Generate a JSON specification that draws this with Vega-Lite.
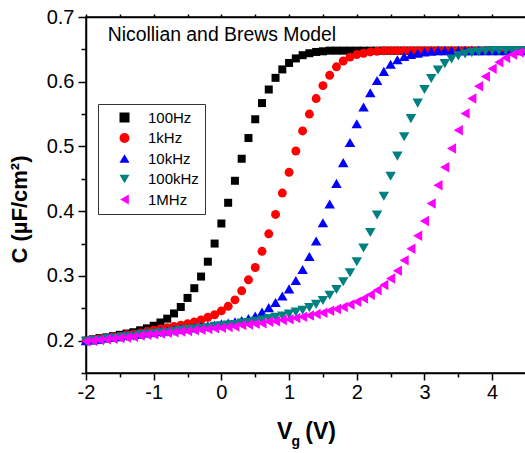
{
  "$schema": "https://vega.github.io/schema/vega-lite/v6.json",
  "width": 440,
  "height": 356,
  "autosize": "none",
  "padding": {"left": 86, "top": 17, "right": 0, "bottom": 80},
  "config": {"view": {"stroke": "black", "strokeWidth": 1.5}, "font": "Liberation Sans"},
  "datasets": {"one": [{}]},
  "data": {"values": [
{"f":"100Hz","V":-2.0,"C":0.200},{"f":"100Hz","V":-1.9,"C":0.202},{"f":"100Hz","V":-1.8,"C":0.204},{"f":"100Hz","V":-1.7,"C":0.205},{"f":"100Hz","V":-1.6,"C":0.207},{"f":"100Hz","V":-1.5,"C":0.209},{"f":"100Hz","V":-1.4,"C":0.211},{"f":"100Hz","V":-1.3,"C":0.213},{"f":"100Hz","V":-1.2,"C":0.216},{"f":"100Hz","V":-1.1,"C":0.219},{"f":"100Hz","V":-1.0,"C":0.223},{"f":"100Hz","V":-0.9,"C":0.228},{"f":"100Hz","V":-0.8,"C":0.234},{"f":"100Hz","V":-0.7,"C":0.242},{"f":"100Hz","V":-0.6,"C":0.252},{"f":"100Hz","V":-0.5,"C":0.266},{"f":"100Hz","V":-0.4,"C":0.281},{"f":"100Hz","V":-0.3,"C":0.299},{"f":"100Hz","V":-0.2,"C":0.322},{"f":"100Hz","V":-0.1,"C":0.350},{"f":"100Hz","V":0.0,"C":0.381},{"f":"100Hz","V":0.1,"C":0.413},{"f":"100Hz","V":0.2,"C":0.447},{"f":"100Hz","V":0.3,"C":0.481},{"f":"100Hz","V":0.4,"C":0.513},{"f":"100Hz","V":0.5,"C":0.542},{"f":"100Hz","V":0.6,"C":0.567},{"f":"100Hz","V":0.7,"C":0.588},{"f":"100Hz","V":0.8,"C":0.606},{"f":"100Hz","V":0.9,"C":0.619},{"f":"100Hz","V":1.0,"C":0.629},{"f":"100Hz","V":1.1,"C":0.636},{"f":"100Hz","V":1.2,"C":0.641},{"f":"100Hz","V":1.3,"C":0.644},{"f":"100Hz","V":1.4,"C":0.646},{"f":"100Hz","V":1.5,"C":0.647},{"f":"100Hz","V":1.6,"C":0.648},{"f":"100Hz","V":1.7,"C":0.648},{"f":"100Hz","V":1.8,"C":0.648},{"f":"100Hz","V":1.9,"C":0.648},{"f":"100Hz","V":2.0,"C":0.648},{"f":"100Hz","V":2.1,"C":0.648},{"f":"100Hz","V":2.2,"C":0.648},{"f":"100Hz","V":2.3,"C":0.648},{"f":"100Hz","V":2.4,"C":0.648},{"f":"100Hz","V":2.5,"C":0.648},{"f":"100Hz","V":2.6,"C":0.648},{"f":"100Hz","V":2.7,"C":0.648},{"f":"100Hz","V":2.8,"C":0.648},{"f":"100Hz","V":2.9,"C":0.648},{"f":"100Hz","V":3.0,"C":0.648},{"f":"100Hz","V":3.1,"C":0.648},{"f":"100Hz","V":3.2,"C":0.648},{"f":"100Hz","V":3.3,"C":0.648},{"f":"100Hz","V":3.4,"C":0.648},{"f":"100Hz","V":3.5,"C":0.648},{"f":"100Hz","V":3.6,"C":0.648},{"f":"100Hz","V":3.7,"C":0.648},{"f":"100Hz","V":3.8,"C":0.648},{"f":"100Hz","V":3.9,"C":0.648},{"f":"100Hz","V":4.0,"C":0.648},{"f":"100Hz","V":4.1,"C":0.648},{"f":"100Hz","V":4.2,"C":0.648},{"f":"100Hz","V":4.3,"C":0.648},{"f":"100Hz","V":4.4,"C":0.648},{"f":"100Hz","V":4.5,"C":0.648},
{"f":"1kHz","V":-2.0,"C":0.200},{"f":"1kHz","V":-1.9,"C":0.201},{"f":"1kHz","V":-1.8,"C":0.203},{"f":"1kHz","V":-1.7,"C":0.204},{"f":"1kHz","V":-1.6,"C":0.206},{"f":"1kHz","V":-1.5,"C":0.207},{"f":"1kHz","V":-1.4,"C":0.209},{"f":"1kHz","V":-1.3,"C":0.210},{"f":"1kHz","V":-1.2,"C":0.212},{"f":"1kHz","V":-1.1,"C":0.214},{"f":"1kHz","V":-1.0,"C":0.216},{"f":"1kHz","V":-0.9,"C":0.218},{"f":"1kHz","V":-0.8,"C":0.220},{"f":"1kHz","V":-0.7,"C":0.222},{"f":"1kHz","V":-0.6,"C":0.224},{"f":"1kHz","V":-0.5,"C":0.226},{"f":"1kHz","V":-0.4,"C":0.229},{"f":"1kHz","V":-0.3,"C":0.232},{"f":"1kHz","V":-0.2,"C":0.236},{"f":"1kHz","V":-0.1,"C":0.240},{"f":"1kHz","V":0.0,"C":0.246},{"f":"1kHz","V":0.1,"C":0.253},{"f":"1kHz","V":0.2,"C":0.263},{"f":"1kHz","V":0.3,"C":0.277},{"f":"1kHz","V":0.4,"C":0.294},{"f":"1kHz","V":0.5,"C":0.313},{"f":"1kHz","V":0.6,"C":0.338},{"f":"1kHz","V":0.7,"C":0.365},{"f":"1kHz","V":0.8,"C":0.395},{"f":"1kHz","V":0.9,"C":0.428},{"f":"1kHz","V":1.0,"C":0.460},{"f":"1kHz","V":1.1,"C":0.493},{"f":"1kHz","V":1.2,"C":0.524},{"f":"1kHz","V":1.3,"C":0.550},{"f":"1kHz","V":1.4,"C":0.574},{"f":"1kHz","V":1.5,"C":0.594},{"f":"1kHz","V":1.6,"C":0.610},{"f":"1kHz","V":1.7,"C":0.623},{"f":"1kHz","V":1.8,"C":0.632},{"f":"1kHz","V":1.9,"C":0.638},{"f":"1kHz","V":2.0,"C":0.642},{"f":"1kHz","V":2.1,"C":0.644},{"f":"1kHz","V":2.2,"C":0.646},{"f":"1kHz","V":2.3,"C":0.647},{"f":"1kHz","V":2.4,"C":0.648},{"f":"1kHz","V":2.5,"C":0.648},{"f":"1kHz","V":2.6,"C":0.648},{"f":"1kHz","V":2.7,"C":0.648},{"f":"1kHz","V":2.8,"C":0.648},{"f":"1kHz","V":2.9,"C":0.648},{"f":"1kHz","V":3.0,"C":0.648},{"f":"1kHz","V":3.1,"C":0.648},{"f":"1kHz","V":3.2,"C":0.648},{"f":"1kHz","V":3.3,"C":0.648},{"f":"1kHz","V":3.4,"C":0.648},{"f":"1kHz","V":3.5,"C":0.648},{"f":"1kHz","V":3.6,"C":0.648},{"f":"1kHz","V":3.7,"C":0.648},{"f":"1kHz","V":3.8,"C":0.648},{"f":"1kHz","V":3.9,"C":0.648},{"f":"1kHz","V":4.0,"C":0.648},{"f":"1kHz","V":4.1,"C":0.648},{"f":"1kHz","V":4.2,"C":0.648},{"f":"1kHz","V":4.3,"C":0.648},{"f":"1kHz","V":4.4,"C":0.648},{"f":"1kHz","V":4.5,"C":0.648},
{"f":"10kHz","V":-2.0,"C":0.200},{"f":"10kHz","V":-1.9,"C":0.201},{"f":"10kHz","V":-1.8,"C":0.202},{"f":"10kHz","V":-1.7,"C":0.204},{"f":"10kHz","V":-1.6,"C":0.205},{"f":"10kHz","V":-1.5,"C":0.206},{"f":"10kHz","V":-1.4,"C":0.208},{"f":"10kHz","V":-1.3,"C":0.209},{"f":"10kHz","V":-1.2,"C":0.210},{"f":"10kHz","V":-1.1,"C":0.212},{"f":"10kHz","V":-1.0,"C":0.213},{"f":"10kHz","V":-0.9,"C":0.214},{"f":"10kHz","V":-0.8,"C":0.215},{"f":"10kHz","V":-0.7,"C":0.217},{"f":"10kHz","V":-0.6,"C":0.218},{"f":"10kHz","V":-0.5,"C":0.219},{"f":"10kHz","V":-0.4,"C":0.220},{"f":"10kHz","V":-0.3,"C":0.222},{"f":"10kHz","V":-0.2,"C":0.223},{"f":"10kHz","V":-0.1,"C":0.224},{"f":"10kHz","V":0.0,"C":0.226},{"f":"10kHz","V":0.1,"C":0.227},{"f":"10kHz","V":0.2,"C":0.229},{"f":"10kHz","V":0.3,"C":0.231},{"f":"10kHz","V":0.4,"C":0.234},{"f":"10kHz","V":0.5,"C":0.238},{"f":"10kHz","V":0.6,"C":0.244},{"f":"10kHz","V":0.7,"C":0.251},{"f":"10kHz","V":0.8,"C":0.259},{"f":"10kHz","V":0.9,"C":0.269},{"f":"10kHz","V":1.0,"C":0.280},{"f":"10kHz","V":1.1,"C":0.293},{"f":"10kHz","V":1.2,"C":0.310},{"f":"10kHz","V":1.3,"C":0.330},{"f":"10kHz","V":1.4,"C":0.354},{"f":"10kHz","V":1.5,"C":0.382},{"f":"10kHz","V":1.6,"C":0.411},{"f":"10kHz","V":1.7,"C":0.443},{"f":"10kHz","V":1.8,"C":0.475},{"f":"10kHz","V":1.9,"C":0.506},{"f":"10kHz","V":2.0,"C":0.535},{"f":"10kHz","V":2.1,"C":0.561},{"f":"10kHz","V":2.2,"C":0.583},{"f":"10kHz","V":2.3,"C":0.602},{"f":"10kHz","V":2.4,"C":0.616},{"f":"10kHz","V":2.5,"C":0.627},{"f":"10kHz","V":2.6,"C":0.634},{"f":"10kHz","V":2.7,"C":0.639},{"f":"10kHz","V":2.8,"C":0.642},{"f":"10kHz","V":2.9,"C":0.644},{"f":"10kHz","V":3.0,"C":0.646},{"f":"10kHz","V":3.1,"C":0.647},{"f":"10kHz","V":3.2,"C":0.648},{"f":"10kHz","V":3.3,"C":0.648},{"f":"10kHz","V":3.4,"C":0.648},{"f":"10kHz","V":3.5,"C":0.648},{"f":"10kHz","V":3.6,"C":0.648},{"f":"10kHz","V":3.7,"C":0.648},{"f":"10kHz","V":3.8,"C":0.648},{"f":"10kHz","V":3.9,"C":0.648},{"f":"10kHz","V":4.0,"C":0.648},{"f":"10kHz","V":4.1,"C":0.648},{"f":"10kHz","V":4.2,"C":0.648},{"f":"10kHz","V":4.3,"C":0.648},{"f":"10kHz","V":4.4,"C":0.648},{"f":"10kHz","V":4.5,"C":0.648},
{"f":"100kHz","V":-2.0,"C":0.199},{"f":"100kHz","V":-1.9,"C":0.200},{"f":"100kHz","V":-1.8,"C":0.201},{"f":"100kHz","V":-1.7,"C":0.203},{"f":"100kHz","V":-1.6,"C":0.204},{"f":"100kHz","V":-1.5,"C":0.205},{"f":"100kHz","V":-1.4,"C":0.206},{"f":"100kHz","V":-1.3,"C":0.207},{"f":"100kHz","V":-1.2,"C":0.209},{"f":"100kHz","V":-1.1,"C":0.210},{"f":"100kHz","V":-1.0,"C":0.211},{"f":"100kHz","V":-0.9,"C":0.212},{"f":"100kHz","V":-0.8,"C":0.213},{"f":"100kHz","V":-0.7,"C":0.214},{"f":"100kHz","V":-0.6,"C":0.216},{"f":"100kHz","V":-0.5,"C":0.217},{"f":"100kHz","V":-0.4,"C":0.218},{"f":"100kHz","V":-0.3,"C":0.219},{"f":"100kHz","V":-0.2,"C":0.220},{"f":"100kHz","V":-0.1,"C":0.222},{"f":"100kHz","V":0.0,"C":0.223},{"f":"100kHz","V":0.1,"C":0.224},{"f":"100kHz","V":0.2,"C":0.225},{"f":"100kHz","V":0.3,"C":0.227},{"f":"100kHz","V":0.4,"C":0.228},{"f":"100kHz","V":0.5,"C":0.230},{"f":"100kHz","V":0.6,"C":0.232},{"f":"100kHz","V":0.7,"C":0.234},{"f":"100kHz","V":0.8,"C":0.236},{"f":"100kHz","V":0.9,"C":0.238},{"f":"100kHz","V":1.0,"C":0.241},{"f":"100kHz","V":1.1,"C":0.244},{"f":"100kHz","V":1.2,"C":0.247},{"f":"100kHz","V":1.3,"C":0.251},{"f":"100kHz","V":1.4,"C":0.256},{"f":"100kHz","V":1.5,"C":0.262},{"f":"100kHz","V":1.6,"C":0.270},{"f":"100kHz","V":1.7,"C":0.279},{"f":"100kHz","V":1.8,"C":0.291},{"f":"100kHz","V":1.9,"C":0.305},{"f":"100kHz","V":2.0,"C":0.322},{"f":"100kHz","V":2.1,"C":0.343},{"f":"100kHz","V":2.2,"C":0.367},{"f":"100kHz","V":2.3,"C":0.394},{"f":"100kHz","V":2.4,"C":0.423},{"f":"100kHz","V":2.5,"C":0.454},{"f":"100kHz","V":2.6,"C":0.485},{"f":"100kHz","V":2.7,"C":0.515},{"f":"100kHz","V":2.8,"C":0.543},{"f":"100kHz","V":2.9,"C":0.567},{"f":"100kHz","V":3.0,"C":0.588},{"f":"100kHz","V":3.1,"C":0.605},{"f":"100kHz","V":3.2,"C":0.618},{"f":"100kHz","V":3.3,"C":0.628},{"f":"100kHz","V":3.4,"C":0.635},{"f":"100kHz","V":3.5,"C":0.640},{"f":"100kHz","V":3.6,"C":0.643},{"f":"100kHz","V":3.7,"C":0.645},{"f":"100kHz","V":3.8,"C":0.646},{"f":"100kHz","V":3.9,"C":0.647},{"f":"100kHz","V":4.0,"C":0.648},{"f":"100kHz","V":4.1,"C":0.648},{"f":"100kHz","V":4.2,"C":0.648},{"f":"100kHz","V":4.3,"C":0.648},{"f":"100kHz","V":4.4,"C":0.648},{"f":"100kHz","V":4.5,"C":0.648},
{"f":"1MHz","V":-2.0,"C":0.199},{"f":"1MHz","V":-1.9,"C":0.200},{"f":"1MHz","V":-1.8,"C":0.201},{"f":"1MHz","V":-1.7,"C":0.202},{"f":"1MHz","V":-1.6,"C":0.203},{"f":"1MHz","V":-1.5,"C":0.204},{"f":"1MHz","V":-1.4,"C":0.205},{"f":"1MHz","V":-1.3,"C":0.206},{"f":"1MHz","V":-1.2,"C":0.208},{"f":"1MHz","V":-1.1,"C":0.209},{"f":"1MHz","V":-1.0,"C":0.210},{"f":"1MHz","V":-0.9,"C":0.211},{"f":"1MHz","V":-0.8,"C":0.212},{"f":"1MHz","V":-0.7,"C":0.213},{"f":"1MHz","V":-0.6,"C":0.214},{"f":"1MHz","V":-0.5,"C":0.215},{"f":"1MHz","V":-0.4,"C":0.216},{"f":"1MHz","V":-0.3,"C":0.217},{"f":"1MHz","V":-0.2,"C":0.218},{"f":"1MHz","V":-0.1,"C":0.219},{"f":"1MHz","V":0.0,"C":0.220},{"f":"1MHz","V":0.1,"C":0.221},{"f":"1MHz","V":0.2,"C":0.222},{"f":"1MHz","V":0.3,"C":0.224},{"f":"1MHz","V":0.4,"C":0.225},{"f":"1MHz","V":0.5,"C":0.226},{"f":"1MHz","V":0.6,"C":0.227},{"f":"1MHz","V":0.7,"C":0.229},{"f":"1MHz","V":0.8,"C":0.230},{"f":"1MHz","V":0.9,"C":0.232},{"f":"1MHz","V":1.0,"C":0.233},{"f":"1MHz","V":1.1,"C":0.235},{"f":"1MHz","V":1.2,"C":0.237},{"f":"1MHz","V":1.3,"C":0.239},{"f":"1MHz","V":1.4,"C":0.241},{"f":"1MHz","V":1.5,"C":0.243},{"f":"1MHz","V":1.6,"C":0.246},{"f":"1MHz","V":1.7,"C":0.249},{"f":"1MHz","V":1.8,"C":0.252},{"f":"1MHz","V":1.9,"C":0.256},{"f":"1MHz","V":2.0,"C":0.260},{"f":"1MHz","V":2.1,"C":0.265},{"f":"1MHz","V":2.2,"C":0.271},{"f":"1MHz","V":2.3,"C":0.278},{"f":"1MHz","V":2.4,"C":0.286},{"f":"1MHz","V":2.5,"C":0.296},{"f":"1MHz","V":2.6,"C":0.308},{"f":"1MHz","V":2.7,"C":0.324},{"f":"1MHz","V":2.8,"C":0.342},{"f":"1MHz","V":2.9,"C":0.362},{"f":"1MHz","V":3.0,"C":0.385},{"f":"1MHz","V":3.1,"C":0.412},{"f":"1MHz","V":3.2,"C":0.440},{"f":"1MHz","V":3.3,"C":0.468},{"f":"1MHz","V":3.4,"C":0.497},{"f":"1MHz","V":3.5,"C":0.525},{"f":"1MHz","V":3.6,"C":0.551},{"f":"1MHz","V":3.7,"C":0.574},{"f":"1MHz","V":3.8,"C":0.593},{"f":"1MHz","V":3.9,"C":0.608},{"f":"1MHz","V":4.0,"C":0.620},{"f":"1MHz","V":4.1,"C":0.630},{"f":"1MHz","V":4.2,"C":0.637},{"f":"1MHz","V":4.3,"C":0.642},{"f":"1MHz","V":4.4,"C":0.645},{"f":"1MHz","V":4.5,"C":0.647}
  ]},
  "layer": [
    {
      "encoding": {
        "x": {"field": "V", "type": "quantitative",
          "scale": {"domain": [-2, 4.5], "nice": false, "zero": false},
          "axis": {"orient": "bottom", "grid": false,
            "values": [-2,-1.5,-1,-0.5,0,0.5,1,1.5,2,2.5,3,3.5,4,4.5],
            "labelExpr": "datum.value % 1 === 0 ? '' + datum.value : ''",
            "labelFlush": false, "labelOverlap": false,
            "tickSize": {"condition": {"test": "datum.value % 1 !== 0", "value": 4}, "value": 7},
            "tickColor": "black", "tickWidth": 1.5, "domainColor": "black", "domainWidth": 1.5,
            "labelFontSize": 20, "labelColor": "black", "labelPadding": 2, "labelFont": "Liberation Sans",
            "title": "V\u00a0\u00a0(V)", "titleFontSize": 23, "titleFontWeight": "bold", "titleColor": "black",
            "titleFont": "Liberation Sans", "titleY": 65, "titleBaseline": "alphabetic"}},
        "y": {"field": "C", "type": "quantitative",
          "scale": {"domain": [0.15, 0.7], "nice": false, "zero": false},
          "axis": {"orient": "left", "grid": false,
            "values": [0.15,0.2,0.25,0.3,0.35,0.4,0.45,0.5,0.55,0.6,0.65,0.7],
            "format": ".1f",
            "labelExpr": "abs(datum.value*10 - round(datum.value*10)) < 0.01 ? datum.label : ''",
            "labelOverlap": false, "labelFlush": false,
            "tickSize": {"condition": {"test": "abs(datum.value*10 - round(datum.value*10)) > 0.01", "value": 5}, "value": 8},
            "tickColor": "black", "tickWidth": 1.5, "domainColor": "black", "domainWidth": 1.5,
            "labelFontSize": 20, "labelColor": "black", "labelPadding": 4, "labelFont": "Liberation Sans",
            "title": "C (µF/cm²)", "titleFontSize": 22, "titleFontWeight": "bold", "titleColor": "black",
            "titleFont": "Liberation Sans", "titleX": -67, "titleY": 192, "titleAngle": -90,
            "titleBaseline": "middle", "titleAlign": "center"}},
        "color": {"field": "f", "type": "nominal",
          "scale": {"domain": ["100Hz","1kHz","10kHz","100kHz","1MHz"], "range": ["#000000","#ff0000","#0000ff","#008080","#ff00ff"]},
          "legend": {"title": null, "orient": "none", "legendX": 12, "legendY": 87,
            "strokeColor": "#333333", "fillColor": "white", "padding": 6, "rowPadding": 4.5,
            "labelFontSize": 15, "labelFont": "Liberation Sans", "labelColor": "black",
            "symbolSize": 100, "symbolOffset": 13, "labelOffset": 16, "symbolStrokeWidth": 0}},
        "shape": {"field": "f", "type": "nominal",
          "scale": {"domain": ["100Hz","1kHz","10kHz","100kHz","1MHz"], "range": ["square","circle","triangle-up","triangle-down","triangle-left"]},
          "legend": {"title": null, "orient": "none", "legendX": 12, "legendY": 87,
            "strokeColor": "#333333", "fillColor": "white", "padding": 6, "rowPadding": 4.5,
            "labelFontSize": 15, "labelFont": "Liberation Sans", "labelColor": "black",
            "symbolSize": 100, "symbolOffset": 13, "labelOffset": 16, "symbolStrokeWidth": 0}}
      },
      "layer": [
        {"transform": [{"filter": "datum.f === '100Hz'"}], "mark": {"type": "point", "filled": true, "opacity": 1, "size": 64, "strokeWidth": 0}},
        {"transform": [{"filter": "datum.f === '1kHz'"}], "mark": {"type": "point", "filled": true, "opacity": 1, "size": 80, "strokeWidth": 0}},
        {"transform": [{"filter": "datum.f === '10kHz'"}], "mark": {"type": "point", "filled": true, "opacity": 1, "size": 110, "strokeWidth": 0}},
        {"transform": [{"filter": "datum.f === '100kHz'"}], "mark": {"type": "point", "filled": true, "opacity": 1, "size": 110, "strokeWidth": 0}},
        {"transform": [{"filter": "datum.f === '1MHz'"}], "mark": {"type": "point", "filled": true, "opacity": 1, "size": 110, "strokeWidth": 0}}
      ]
    },
    {
      "data": {"name": "one"},
      "encoding": {
        "y": {"type": "quantitative",
          "axis": {"orient": "left", "grid": false,
            "values": [0.15,0.2,0.25,0.3,0.35,0.4,0.45,0.5,0.55,0.6,0.65,0.7],
            "format": ".1f",
            "labelExpr": "abs(datum.value*10 - round(datum.value*10)) < 0.01 ? datum.label : ''",
            "labelOverlap": false, "labelFlush": false,
            "tickSize": {"condition": {"test": "abs(datum.value*10 - round(datum.value*10)) > 0.01", "value": 5}, "value": 8},
            "tickColor": "black", "tickWidth": 1.5, "domainColor": "black", "domainWidth": 1.5,
            "labelFontSize": 20, "labelColor": "black", "labelPadding": 4, "labelFont": "Liberation Sans",
            "title": "C (µF/cm²)", "titleFontSize": 22, "titleFontWeight": "bold", "titleColor": "black",
            "titleFont": "Liberation Sans", "titleX": -67, "titleY": 192, "titleAngle": -90,
            "titleBaseline": "middle", "titleAlign": "center"}},
        "x": {"type": "quantitative",
          "axis": {"orient": "top", "title": null, "labels": false, "grid": false,
            "values": [-2,-1.5,-1,-0.5,0,0.5,1,1.5,2,2.5,3,3.5,4,4.5],
            "tickSize": 3, "tickColor": "black", "tickWidth": 1.5, "domainColor": "black", "domainWidth": 1.5}}
      },
      "layer": [
        {"mark": {"type": "text", "text": "Nicollian and Brews Model", "font": "Liberation Sans", "fontSize": 19.4, "align": "left", "baseline": "alphabetic", "color": "black"},
         "encoding": {"x": {"datum": -1.68}, "y": {"datum": 0.6625}}},
        {"mark": {"type": "text", "text": "g", "font": "Liberation Sans", "fontSize": 14, "fontWeight": "bold", "align": "center", "baseline": "alphabetic", "color": "black", "clip": false},
         "encoding": {"x": {"datum": 1.1}, "y": {"datum": 0.037}}}
      ]
    }
  ]
}
